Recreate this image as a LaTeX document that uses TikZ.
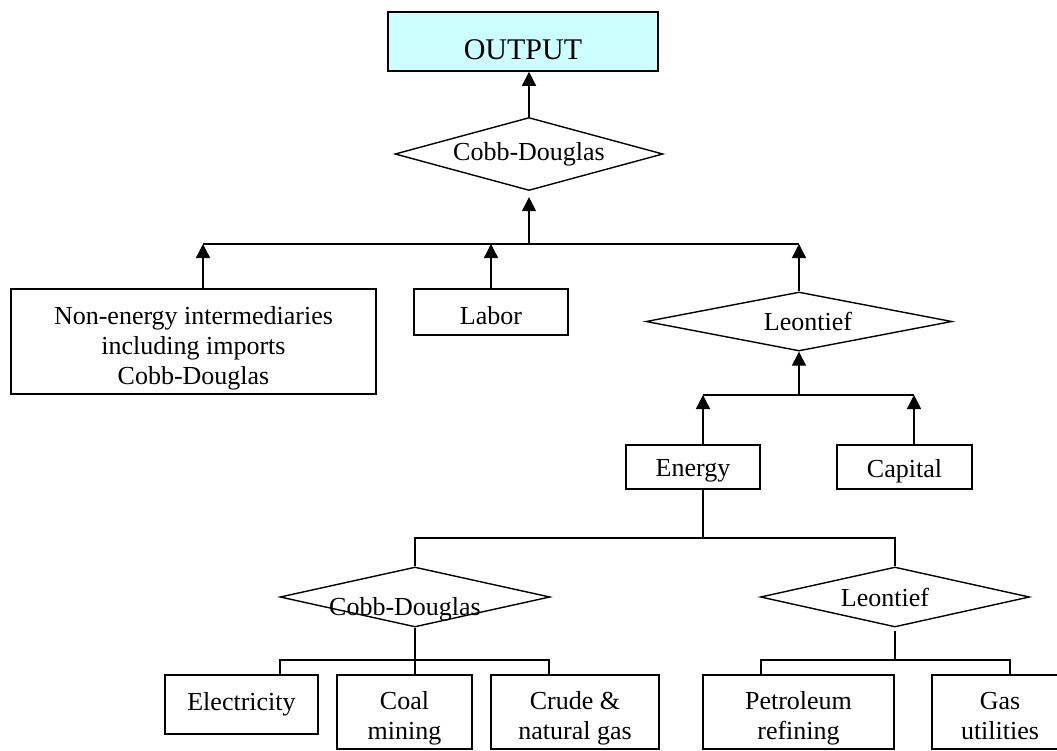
\documentclass[tikz,border=0pt]{standalone}
\usepackage{fontspec}
\setmainfont{Liberation Serif}
\usepackage{xcolor}
\usetikzlibrary{shapes.geometric}
\usetikzlibrary{arrows.meta}
\definecolor{outcyan}{RGB}{204,255,255}
\tikzset{every node/.style={font=\fontsize{13}{15}\selectfont},
 box/.style={draw, line width=0.8pt, inner sep=0pt, align=center},
 rule/.style={diamond, draw, line width=0.7pt, inner sep=0pt, shape aspect=4.5},
 link/.style={line width=0.7pt},
 up/.style={line width=0.7pt, -{Triangle[length=7pt,width=7pt]}},
 }
% move a text without changing its box
\newcommand{\nudge}[3]{\hspace*{#1}\raisebox{#2}[\height][\depth]{#3}\hspace*{-#1}}
\newcommand{\lines}[1]{\begin{tabular}{@{}c@{}}#1\end{tabular}}

\begin{document}
\begin{tikzpicture}[x=0.5pt, y=-0.5pt]
        \useasboundingbox (0,0) rectangle (1057,751);
        % top
        \node[box, fill=outcyan, minimum width=135pt, minimum height=29.5pt,
          font=\fontsize{15}{17}\selectfont] (output) at (523,41.5) {\nudge{0pt}{-4pt}{OUTPUT}};
        \node[rule, minimum width=134pt, minimum height=36.5pt] (cdtop) at (529,154) {Cobb-Douglas};
        \draw[up] (cdtop.north) -- (cdtop.north |- output.south);
        % second level
        \node[box, minimum width=182.5pt, minimum height=52.5pt] (noneng) at (193.5,341.5)
          {\nudge{0pt}{-3.5pt}{\lines{Non-energy intermediaries\\including imports\\Cobb-Douglas}}};
        \node[box, minimum width=77pt, minimum height=23pt] (labor) at (491,312) {\nudge{0pt}{-2pt}{Labor}};
        \node[rule, minimum width=153pt, minimum height=29.5pt] (leontop) at (799,321.5) {\nudge{4.5pt}{0pt}{Leontief}};
        \coordinate (busa) at (529,244);
        \coordinate (busaleft) at (203,244);
        \draw[link] (busaleft) -- (leontop.north |- busa);
        \draw[up, shorten >=3pt] (busa) -- (cdtop.south);
        \draw[up] (busaleft |- noneng.north) -- (busaleft);
        \draw[up] (labor.north) -- (labor.north |- busa);
        \draw[up] (leontop.north) -- (leontop.north |- busa);
        % energy and capital
        \node[box, minimum width=67pt, minimum height=22pt] (energy) at (693,467) {\nudge{0pt}{-2pt}{Energy}};
        \node[box, minimum width=67.5pt, minimum height=22pt] (capital) at (904.5,467) {\nudge{0pt}{-2pt}{Capital}};
        \coordinate (busb) at (799,395);
        \coordinate (busbleft) at (703,395);
        \coordinate (busbright) at (914,395);
        \draw[link] (busbleft) -- (busbright);
        \draw[up] (busb) -- (leontop.south);
        \draw[up] (busbleft |- energy.north) -- (busbleft);
        \draw[up] (busbright |- capital.north) -- (busbright);
        % energy split
        \node[rule, minimum width=135pt, minimum height=30pt] (cdlow) at (415,597) {\nudge{-5pt}{-6pt}{Cobb-Douglas}};
        \node[rule, minimum width=134.5pt, minimum height=30pt] (leonlow) at (895,597) {\nudge{-5pt}{0pt}{Leontief}};
        \coordinate (busc) at (703,538);
        \draw[link] (energy.south -| busc) -- (busc);
        \draw[link] (cdlow.north) |- (busc) -| (leonlow.north);
        % fuels
        \node[box, minimum width=76.5pt, minimum height=29.5pt] (elec) at (241.5,704.5) {Electricity};
        \node[box, minimum width=67.5pt, minimum height=37pt] (coal) at (404.5,712) {\nudge{0pt}{-3pt}{\lines{Coal\\mining}}};
        \node[box, minimum width=84pt, minimum height=37pt] (crude) at (575,712) {\nudge{0pt}{-3pt}{\lines{Crude \&\\natural gas}}};
        \node[box, minimum width=95.5pt, minimum height=37pt] (petro) at (798.5,712) {\nudge{0pt}{-3pt}{\lines{Petroleum\\refining}}};
        \node[box, minimum width=68pt, minimum height=37pt] (gas) at (1000,712) {\nudge{0pt}{-3pt}{\lines{Gas\\utilities}}};
        \coordinate (dl) at (280,660);
        \coordinate (dr) at (549,660);
        \coordinate (el) at (761,660);
        \coordinate (er) at (1010,660);
        \draw[link] (cdlow.south) -- (cdlow.south |- coal.north);
        \draw[link] (dl |- elec.north) -- (dl) -- (dr) -- (dr |- crude.north);
        \draw[link] ([yshift=-1.5pt]leonlow.south) -- (leonlow.south |- el);
        \draw[link] (el |- petro.north) -- (el) -- (er) -- (er |- gas.north);
    \end{tikzpicture}
\end{document}
